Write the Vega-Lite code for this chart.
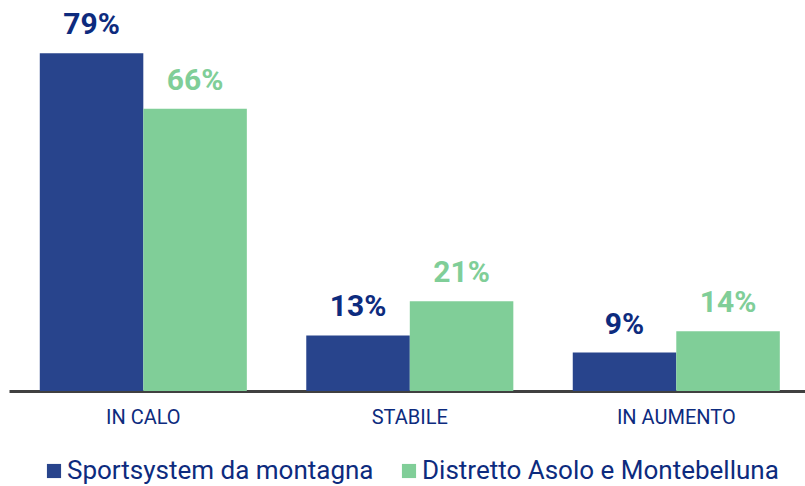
{
  "$schema": "https://vega.github.io/schema/vega-lite/v6.json",
  "width": 796,
  "height": 342,
  "autosize": "none",
  "padding": {"left": 9, "top": 49, "right": 0, "bottom": 95},
  "background": "white",
  "config": {
    "view": {"stroke": null},
    "font": "Roboto"
  },
  "data": {
    "values": [
      {"cat": "IN CALO", "series": "Sportsystem da montagna", "value": 0.79},
      {"cat": "IN CALO", "series": "Distretto Asolo e Montebelluna", "value": 0.66},
      {"cat": "STABILE", "series": "Sportsystem da montagna", "value": 0.13},
      {"cat": "STABILE", "series": "Distretto Asolo e Montebelluna", "value": 0.21},
      {"cat": "IN AUMENTO", "series": "Sportsystem da montagna", "value": 0.09},
      {"cat": "IN AUMENTO", "series": "Distretto Asolo e Montebelluna", "value": 0.14}
    ]
  },
  "encoding": {
    "x": {
      "field": "cat",
      "type": "nominal",
      "sort": ["IN CALO", "STABILE", "IN AUMENTO"],
      "scale": {"paddingInner": 0.223, "paddingOuter": 0.105, "align": 0.55},
      "axis": {
        "title": null,
        "labelAngle": 0,
        "labelFontSize": 20,
        "labelColor": "#0D2B7E",
        "labelPadding": 16,
        "ticks": false,
        "domainColor": "#404040",
        "domainWidth": 3,
        "grid": false
      }
    },
    "xOffset": {
      "field": "series",
      "sort": ["Sportsystem da montagna", "Distretto Asolo e Montebelluna"]
    },
    "y": {
      "field": "value",
      "type": "quantitative",
      "scale": {"domain": [0, 0.8]},
      "axis": null
    }
  },
  "layer": [
    {
      "mark": {"type": "bar"},
      "encoding": {
        "color": {
          "field": "series",
          "type": "nominal",
          "sort": ["Sportsystem da montagna", "Distretto Asolo e Montebelluna"],
          "scale": {
            "domain": ["Sportsystem da montagna", "Distretto Asolo e Montebelluna"],
            "range": ["#28448C", "#80CE98"]
          },
          "legend": {
            "title": null,
            "orient": "none",
            "legendX": 32,
            "legendY": 409,
            "direction": "horizontal",
            "symbolType": "square",
            "symbolSize": 200,
            "symbolStrokeWidth": 0,
            "symbolOpacity": 1,
            "labelFontSize": 26,
            "labelColor": "#0D2B7E",
            "labelOffset": 0,
            "columnPadding": 22,
            "labelLimit": 500
          }
        }
      }
    },
    {
      "mark": {"type": "text", "baseline": "alphabetic", "dy": -19, "fontSize": 30, "fontWeight": "bold"},
      "encoding": {
        "text": {"field": "value", "type": "quantitative", "format": ".0%"},
        "color": {
          "condition": {"test": "datum.series === 'Sportsystem da montagna'", "value": "#0D2B7E"},
          "value": "#80CE98"
        }
      }
    }
  ]
}
